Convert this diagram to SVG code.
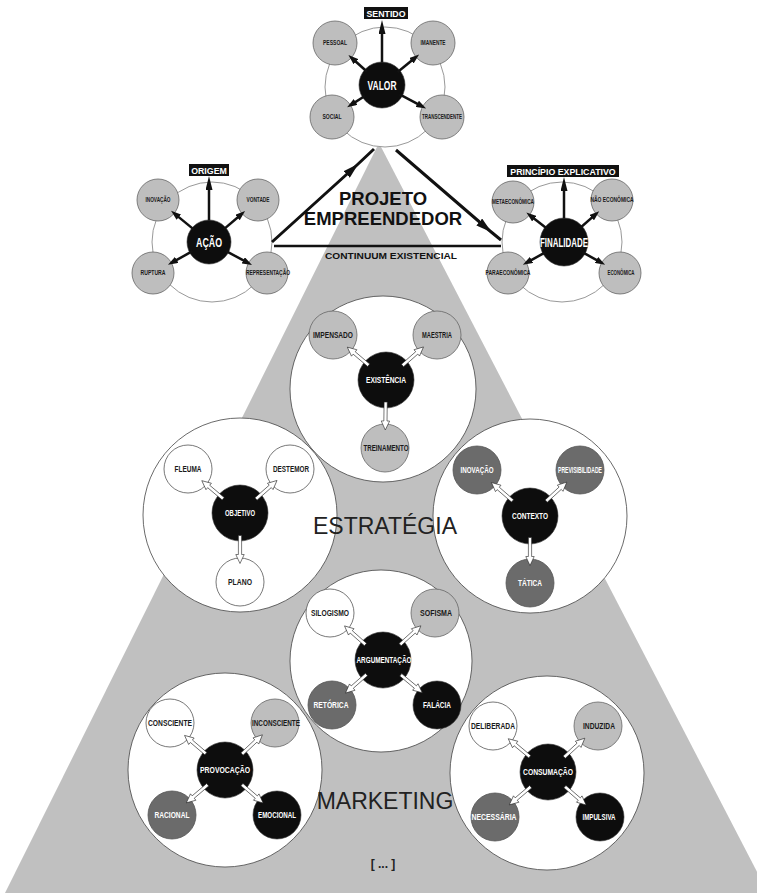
<svg xmlns="http://www.w3.org/2000/svg" xmlns:xlink="http://www.w3.org/1999/xlink" width="757" height="893" viewBox="0 0 757 893">
<style>
text{font-family:"Liberation Sans",Arial,sans-serif;font-weight:bold;text-anchor:middle}
.ring{fill:#fff;stroke:#999;stroke-width:1}
.big{fill:#fff;stroke:#444;stroke-width:0.8}
.lt{fill:#bebebe;stroke:#666;stroke-width:0.8}
.wh{fill:#fff;stroke:#555;stroke-width:0.8}
.dk{fill:#6b6b6b;stroke:#555;stroke-width:0.8}
.bk{fill:#0d0d0d;stroke:#333;stroke-width:0.6}
.t6{font-size:6.6px;fill:#1a1a1a}
.t8{font-size:8.8px;fill:#1a1a1a}
.w8{font-size:8.8px;fill:#fff}
.ctr{font-size:13px;fill:#fff}
.box{fill:#111}
.boxt{font-size:8.8px;fill:#fff}
.sa{stroke:#111;stroke-width:2.5;fill:none}
.big-t{font-weight:normal;font-size:23px;fill:#222}
</style>
<defs>
<marker id="ah" markerUnits="userSpaceOnUse" markerWidth="10" markerHeight="7" refX="4" refY="3.5" orient="auto"><path d="M0,0 L10,3.5 L0,7 z" fill="#111"/></marker>
<marker id="au" markerUnits="userSpaceOnUse" markerWidth="14" markerHeight="7" refX="4" refY="3.5" orient="auto"><path d="M0,0 L14,3.5 L0,7 z" fill="#111"/></marker>
<marker id="am" markerUnits="userSpaceOnUse" markerWidth="16" markerHeight="9" refX="14" refY="4.5" orient="auto"><path d="M0,0 L16,4.5 L0,9 z" fill="#111"/></marker>
<path id="ha" d="M-14,-1.6 H5 V-4.2 L14,0 L5,4.2 V1.6 H-14 Z" fill="#fff" stroke="#222" stroke-width="0.6"/>
</defs>

<polygon id="piramide" points="379,143 5,893 768,893" fill="#c0c0c0"/>

<!-- top clusters -->
<g id="cluster-valor">
<circle class="ring" cx="385" cy="87" r="60"/>
<g id="pessoal"><circle class="lt" cx="335" cy="43" r="22"/><text class="t6" x="335" y="45.3" textLength="24" lengthAdjust="spacingAndGlyphs">PESSOAL</text></g>
<g id="imanente"><circle class="lt" cx="433" cy="43" r="22"/><text class="t6" x="433" y="45.3" textLength="25" lengthAdjust="spacingAndGlyphs">IMANENTE</text></g>
<g id="social"><circle class="lt" cx="332" cy="117" r="22"/><text class="t6" x="332" y="119.3" textLength="19" lengthAdjust="spacingAndGlyphs">SOCIAL</text></g>
<g id="transcendente"><circle class="lt" cx="442" cy="117" r="22"/><text class="t6" x="442" y="119.3" textLength="40" lengthAdjust="spacingAndGlyphs">TRANSCENDENTE</text></g>
<g id="valor"><circle class="bk" cx="382" cy="85" r="23"/><text class="ctr" x="382" y="89.5" textLength="29" lengthAdjust="spacingAndGlyphs">VALOR</text></g>
<g id="sentido"><rect class="box" x="364" y="7" width="44" height="12"/><text class="boxt" x="386" y="16.5">SENTIDO</text></g>
</g>

<g id="cluster-acao">
<circle class="ring" cx="212" cy="242" r="60"/>
<g id="inovacao-a"><circle class="lt" cx="158" cy="200" r="21"/><text class="t6" x="158" y="202.3" textLength="25" lengthAdjust="spacingAndGlyphs">INOVAÇÃO</text></g>
<g id="vontade"><circle class="lt" cx="258" cy="200" r="21"/><text class="t6" x="258" y="202.3" textLength="23" lengthAdjust="spacingAndGlyphs">VONTADE</text></g>
<g id="ruptura"><circle class="lt" cx="153" cy="273" r="21"/><text class="t6" x="153" y="275.3" textLength="25" lengthAdjust="spacingAndGlyphs">RUPTURA</text></g>
<g id="representacao"><circle class="lt" cx="267" cy="273" r="21"/><text class="t6" x="268" y="275.3" textLength="44" lengthAdjust="spacingAndGlyphs">REPRESENTAÇÃO</text></g>
<g id="acao"><circle class="bk" cx="209" cy="242" r="22"/><text class="ctr" x="209" y="246.5" textLength="26" lengthAdjust="spacingAndGlyphs">AÇÃO</text></g>
<g id="origem"><rect class="box" x="189" y="164" width="40" height="12"/><text class="boxt" x="209" y="173.5">ORIGEM</text></g>
</g>

<g id="cluster-finalidade">
<circle class="ring" cx="562" cy="242" r="60"/>
<g id="metaeconomica"><circle class="lt" cx="513" cy="202" r="21"/><text class="t6" x="513" y="204.3" textLength="42" lengthAdjust="spacingAndGlyphs">METAECONÔMICA</text></g>
<g id="naoeconomica"><circle class="lt" cx="612" cy="200" r="21"/><text class="t6" x="612" y="202.3" textLength="43" lengthAdjust="spacingAndGlyphs">NÃO ECONÔMICA</text></g>
<g id="paraeconomica"><circle class="lt" cx="508" cy="273" r="21"/><text class="t6" x="508" y="275.3" textLength="45" lengthAdjust="spacingAndGlyphs">PARAECONÔMICA</text></g>
<g id="economica"><circle class="lt" cx="620" cy="273" r="21"/><text class="t6" x="621" y="275.3" textLength="27" lengthAdjust="spacingAndGlyphs">ECONÔMICA</text></g>
<g id="finalidade"><circle class="bk" cx="564" cy="242" r="24"/><text class="ctr" x="564" y="246.5" textLength="48" lengthAdjust="spacingAndGlyphs">FINALIDADE</text></g>
<g id="principio"><rect class="box" x="507" y="165" width="112" height="12"/><text class="boxt" x="563" y="174.5">PRINCÍPIO EXPLICATIVO</text></g>
</g>

<g id="projeto">
<text x="383" y="205" style="font-size:18.5px;fill:#111">PROJETO</text>
<text x="383" y="225" style="font-size:18.5px;fill:#111">EMPREENDEDOR</text>
<text x="391" y="259" style="font-size:9.5px;fill:#111" textLength="132" lengthAdjust="spacingAndGlyphs">CONTINUUM EXISTENCIAL</text>
</g>

<!-- lower clusters -->
<g id="cluster-existencia">
<circle class="big" cx="383" cy="389" r="93"/>
<g id="impensado"><circle class="lt" cx="333" cy="335" r="24"/><text class="t8" x="333" y="338" textLength="40" lengthAdjust="spacingAndGlyphs">IMPENSADO</text></g>
<g id="maestria"><circle class="lt" cx="437" cy="335" r="24"/><text class="t8" x="437" y="338" textLength="30" lengthAdjust="spacingAndGlyphs">MAESTRIA</text></g>
<g id="treinamento"><circle class="lt" cx="385" cy="448" r="24"/><text class="t8" x="386" y="451" textLength="45" lengthAdjust="spacingAndGlyphs">TREINAMENTO</text></g>
<g id="existencia"><circle class="bk" cx="386" cy="380" r="28"/><text class="w8" x="386" y="383" textLength="40" lengthAdjust="spacingAndGlyphs">EXISTÊNCIA</text></g>
</g>

<g id="cluster-objetivo">
<circle class="big" cx="240" cy="515" r="97"/>
<g id="fleuma"><circle class="wh" cx="188" cy="469" r="24"/><text class="t8" x="188" y="472" textLength="27" lengthAdjust="spacingAndGlyphs">FLEUMA</text></g>
<g id="destemor"><circle class="wh" cx="290" cy="469" r="24"/><text class="t8" x="291" y="472" textLength="36" lengthAdjust="spacingAndGlyphs">DESTEMOR</text></g>
<g id="plano"><circle class="wh" cx="240" cy="582" r="24"/><text class="t8" x="240" y="585" textLength="24" lengthAdjust="spacingAndGlyphs">PLANO</text></g>
<g id="objetivo"><circle class="bk" cx="240" cy="513" r="28"/><text class="w8" x="240" y="516" textLength="30" lengthAdjust="spacingAndGlyphs">OBJETIVO</text></g>
</g>

<g id="cluster-contexto">
<circle class="big" cx="530" cy="516" r="97"/>
<g id="inovacao-c"><circle class="dk" cx="477" cy="470" r="24"/><text class="w8" x="477" y="473" textLength="33" lengthAdjust="spacingAndGlyphs">INOVAÇÃO</text></g>
<g id="previsibilidade"><circle class="dk" cx="580" cy="470" r="24"/><text class="w8" x="580" y="473" textLength="44" lengthAdjust="spacingAndGlyphs">PREVISIBILIDADE</text></g>
<g id="tatica"><circle class="dk" cx="530" cy="583" r="24"/><text class="w8" x="530" y="586" textLength="24" lengthAdjust="spacingAndGlyphs">TÁTICA</text></g>
<g id="contexto"><circle class="bk" cx="530" cy="516" r="28"/><text class="w8" x="530" y="519" textLength="36" lengthAdjust="spacingAndGlyphs">CONTEXTO</text></g>
</g>

<g id="cluster-argumentacao">
<circle class="big" cx="381" cy="661" r="91"/>
<g id="silogismo"><circle class="wh" cx="330" cy="613" r="24"/><text class="t8" x="330" y="616" textLength="38" lengthAdjust="spacingAndGlyphs">SILOGISMO</text></g>
<g id="sofisma"><circle class="lt" cx="435" cy="613" r="24"/><text class="t8" x="436" y="616" textLength="32" lengthAdjust="spacingAndGlyphs">SOFISMA</text></g>
<g id="retorica"><circle class="dk" cx="332" cy="705" r="24"/><text class="w8" x="331" y="708" textLength="35" lengthAdjust="spacingAndGlyphs">RETÓRICA</text></g>
<g id="falacia"><circle class="bk" cx="437" cy="705" r="24"/><text class="w8" x="437" y="708" textLength="28" lengthAdjust="spacingAndGlyphs">FALÁCIA</text></g>
<g id="argumentacao"><circle class="bk" cx="383" cy="660" r="28"/><text class="w8" x="384" y="663" textLength="55" lengthAdjust="spacingAndGlyphs">ARGUMENTAÇÃO</text></g>
</g>

<g id="cluster-provocacao">
<circle class="big" cx="225" cy="770" r="97"/>
<g id="consciente"><circle class="wh" cx="170" cy="723" r="24"/><text class="t8" x="170" y="726" textLength="44" lengthAdjust="spacingAndGlyphs">CONSCIENTE</text></g>
<g id="inconsciente"><circle class="lt" cx="275" cy="723" r="24"/><text class="t8" x="276" y="726" textLength="48" lengthAdjust="spacingAndGlyphs">INCONSCIENTE</text></g>
<g id="racional"><circle class="dk" cx="172" cy="815" r="24"/><text class="w8" x="172" y="818" textLength="35" lengthAdjust="spacingAndGlyphs">RACIONAL</text></g>
<g id="emocional"><circle class="bk" cx="277" cy="815" r="24"/><text class="w8" x="277" y="818" textLength="38" lengthAdjust="spacingAndGlyphs">EMOCIONAL</text></g>
<g id="provocacao"><circle class="bk" cx="225" cy="770" r="28"/><text class="w8" x="225" y="773" textLength="50" lengthAdjust="spacingAndGlyphs">PROVOCAÇÃO</text></g>
</g>

<g id="cluster-consumacao">
<circle class="big" cx="547" cy="773" r="97"/>
<g id="deliberada"><circle class="wh" cx="493" cy="726" r="24"/><text class="t8" x="493" y="729" textLength="44" lengthAdjust="spacingAndGlyphs">DELIBERADA</text></g>
<g id="induzida"><circle class="lt" cx="598" cy="726" r="24"/><text class="t8" x="599" y="729" textLength="32" lengthAdjust="spacingAndGlyphs">INDUZIDA</text></g>
<g id="necessaria"><circle class="dk" cx="495" cy="817" r="24"/><text class="w8" x="494" y="820" textLength="45" lengthAdjust="spacingAndGlyphs">NECESSÁRIA</text></g>
<g id="impulsiva"><circle class="bk" cx="600" cy="817" r="24"/><text class="w8" x="599" y="820" textLength="33" lengthAdjust="spacingAndGlyphs">IMPULSIVA</text></g>
<g id="consumacao"><circle class="bk" cx="548" cy="772" r="28"/><text class="w8" x="548" y="775" textLength="50" lengthAdjust="spacingAndGlyphs">CONSUMAÇÃO</text></g>
</g>

<text id="estrategia" class="big-t" x="385" y="534">ESTRATÉGIA</text>
<text id="marketing" class="big-t" x="385" y="809">MARKETING</text>
<text id="reticencias" x="383" y="868" style="font-size:12px;fill:#222">[ ... ]</text>

<g id="connectors">
<!-- top cluster black arrows -->
<line class="sa" x1="367.1" y1="71.7" x2="352.9" y2="59" marker-end="url(#ah)"/>
<line class="sa" x1="397.4" y1="72.3" x2="414.5" y2="58.2" marker-end="url(#ah)"/>
<line class="sa" x1="365.2" y1="95.8" x2="352.2" y2="104.1" marker-end="url(#ah)"/>
<line class="sa" x1="399.6" y1="94.4" x2="420.8" y2="105.7" marker-end="url(#ah)"/>
<line class="sa" x1="382" y1="62" x2="382" y2="30" marker-end="url(#au)"/>

<line class="sa" x1="194.3" y1="229.9" x2="175.7" y2="214.6" marker-end="url(#ah)"/>
<line class="sa" x1="223.4" y1="229.6" x2="240.5" y2="215" marker-end="url(#ah)"/>
<line class="sa" x1="192.4" y1="251.2" x2="173.2" y2="261.9" marker-end="url(#ah)"/>
<line class="sa" x1="225.7" y1="250.9" x2="246.7" y2="262.2" marker-end="url(#ah)"/>
<line class="sa" x1="209" y1="220" x2="209" y2="186" marker-end="url(#au)"/>

<line class="sa" x1="547.5" y1="229" x2="531.1" y2="216.2" marker-end="url(#ah)"/>
<line class="sa" x1="579.8" y1="228.2" x2="594.7" y2="215.1" marker-end="url(#ah)"/>
<line class="sa" x1="545.6" y1="252.2" x2="528.1" y2="261.9" marker-end="url(#ah)"/>
<line class="sa" x1="582.4" y1="252.2" x2="599.9" y2="261.9" marker-end="url(#ah)"/>
<line class="sa" x1="564" y1="218" x2="564" y2="187" marker-end="url(#au)"/>

<!-- projeto empreendedor triangle -->
<path class="sa" style="stroke-width:3" d="M272,242 L357,165 L374,149" marker-mid="url(#am)"/>
<path class="sa" style="stroke-width:3" d="M396,150 L490,231 L501,240" marker-mid="url(#am)"/>
<line class="sa" style="stroke-width:2.5" x1="274" y1="246" x2="501" y2="246"/>

<!-- hollow arrows -->
<use xlink:href="#ha" transform="translate(358,356.2) rotate(220.3)"/>
<use xlink:href="#ha" transform="translate(413,356.2) rotate(-41.4)"/>
<use xlink:href="#ha" transform="translate(385.5,416) rotate(90.8)"/>

<use xlink:href="#ha" transform="translate(212.5,489.7) rotate(220.2)"/>
<use xlink:href="#ha" transform="translate(266.5,489.7) rotate(-41.3)"/>
<use xlink:href="#ha" transform="translate(240,549.5) rotate(90)"/>

<use xlink:href="#ha" transform="translate(502,491.7) rotate(221)"/>
<use xlink:href="#ha" transform="translate(556.5,491.6) rotate(-42.6)"/>
<use xlink:href="#ha" transform="translate(530,551.5) rotate(90)"/>

<use xlink:href="#ha" transform="translate(355,635.2) rotate(221.6)"/>
<use xlink:href="#ha" transform="translate(410.5,635.2) rotate(-42.1)"/>
<use xlink:href="#ha" transform="translate(356,683.8) rotate(138.6)"/>
<use xlink:href="#ha" transform="translate(411.5,683.8) rotate(39.8)"/>

<use xlink:href="#ha" transform="translate(195.2,744.5) rotate(220.5)"/>
<use xlink:href="#ha" transform="translate(252.2,744.4) rotate(-43.2)"/>
<use xlink:href="#ha" transform="translate(197,793.8) rotate(139.7)"/>
<use xlink:href="#ha" transform="translate(252.5,793.8) rotate(40.9)"/>

<use xlink:href="#ha" transform="translate(519,747.7) rotate(219.9)"/>
<use xlink:href="#ha" transform="translate(574.5,747.7) rotate(-42.6)"/>
<use xlink:href="#ha" transform="translate(520,795.8) rotate(139.7)"/>
<use xlink:href="#ha" transform="translate(575.5,795.8) rotate(40.9)"/>
</g>
</svg>
